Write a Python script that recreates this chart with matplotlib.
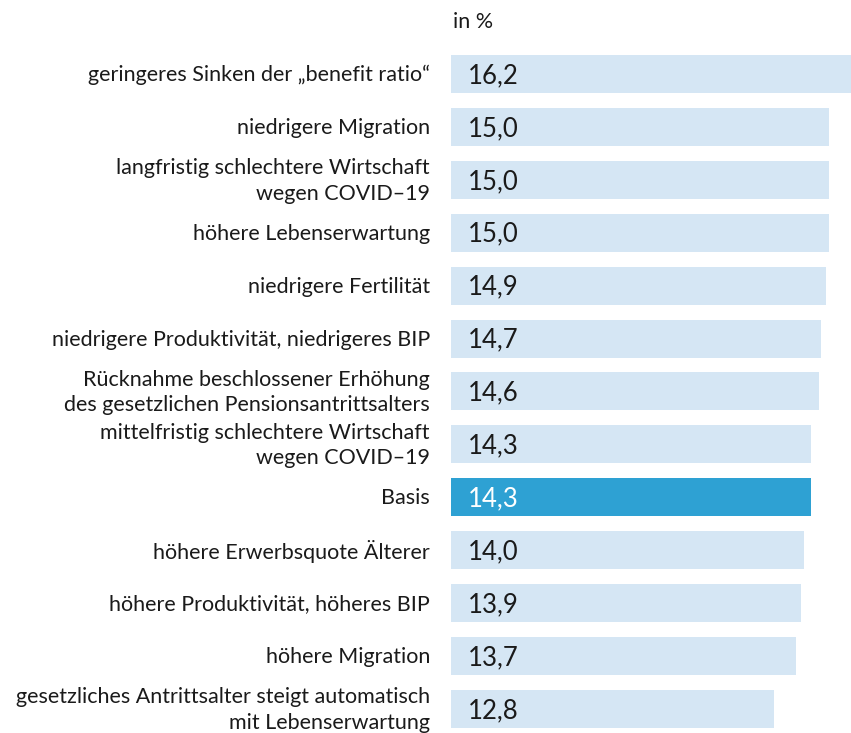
import matplotlib
matplotlib.use("Agg")
import matplotlib.pyplot as plt

# ── data ──────────────────────────────────────────────────────────────────────
labels = [
    "geringeres Sinken der „benefit ratio“",
    "niedrigere Migration",
    "langfristig schlechtere Wirtschaft\nwegen COVID–19",
    "höhere Lebenserwartung",
    "niedrigere Fertilität",
    "niedrigere Produktivität, niedrigeres BIP",
    "Rücknahme beschlossener Erhöhung\ndes gesetzlichen Pensionsantrittsalters",
    "mittelfristig schlechtere Wirtschaft\nwegen COVID–19",
    "Basis",
    "höhere Erwerbsquote Älterer",
    "höhere Produktivität, höheres BIP",
    "höhere Migration",
    "gesetzliches Antrittsalter steigt automatisch\nmit Lebenserwartung",
]
values = [16.2, 15.0, 15.0, 15.0, 14.9, 14.7, 14.6, 14.3, 14.3, 14.0, 13.9, 13.7, 12.8]
highlight = "Basis"

LIGHT = "#d5e6f4"
DARK = "#2ea1d3"
TXT = "#1a1a1a"

plt.rcParams["font.family"] = ["Lato", "DejaVu Sans"]

W, H = 851, 733
fig = plt.figure(figsize=(W / 100, H / 100), dpi=100)

# bar area: starts at x=451 px, 25.2 px per unit, first bar centre y=74, pitch 52.9
x0 = 451
ax = fig.add_axes([x0 / W, 0, 1 - x0 / W, 1])
ax.set_xlim(0, (W - x0) / 25.2)
pitch, c0 = 52.9, 74
ax.set_ylim((H - c0) / pitch, -c0 / pitch)
ax.axis("off")

ys = list(range(len(values)))
colors = [DARK if l == highlight else LIGHT for l in labels]
ax.barh(ys, values, height=38 / pitch, color=colors, clip_on=True)

for y, v, l in zip(ys, values, labels):
    ax.text(17 / 25.2, y + 0.03, f"{v:.1f}".replace(".", ","), va="center", ha="left",
            fontsize=18.5, color="white" if l == highlight else TXT)
    fig.text(430 / W, 1 - (c0 + 1 + y * pitch) / H, l, ha="right", va="center",
             fontsize=15.5, color=TXT, linespacing=1.35)

fig.text(453 / W, 1 - 22 / H, "in %", ha="left", va="center", fontsize=15.5, color=TXT)

fig.savefig("out.png", dpi=100)
